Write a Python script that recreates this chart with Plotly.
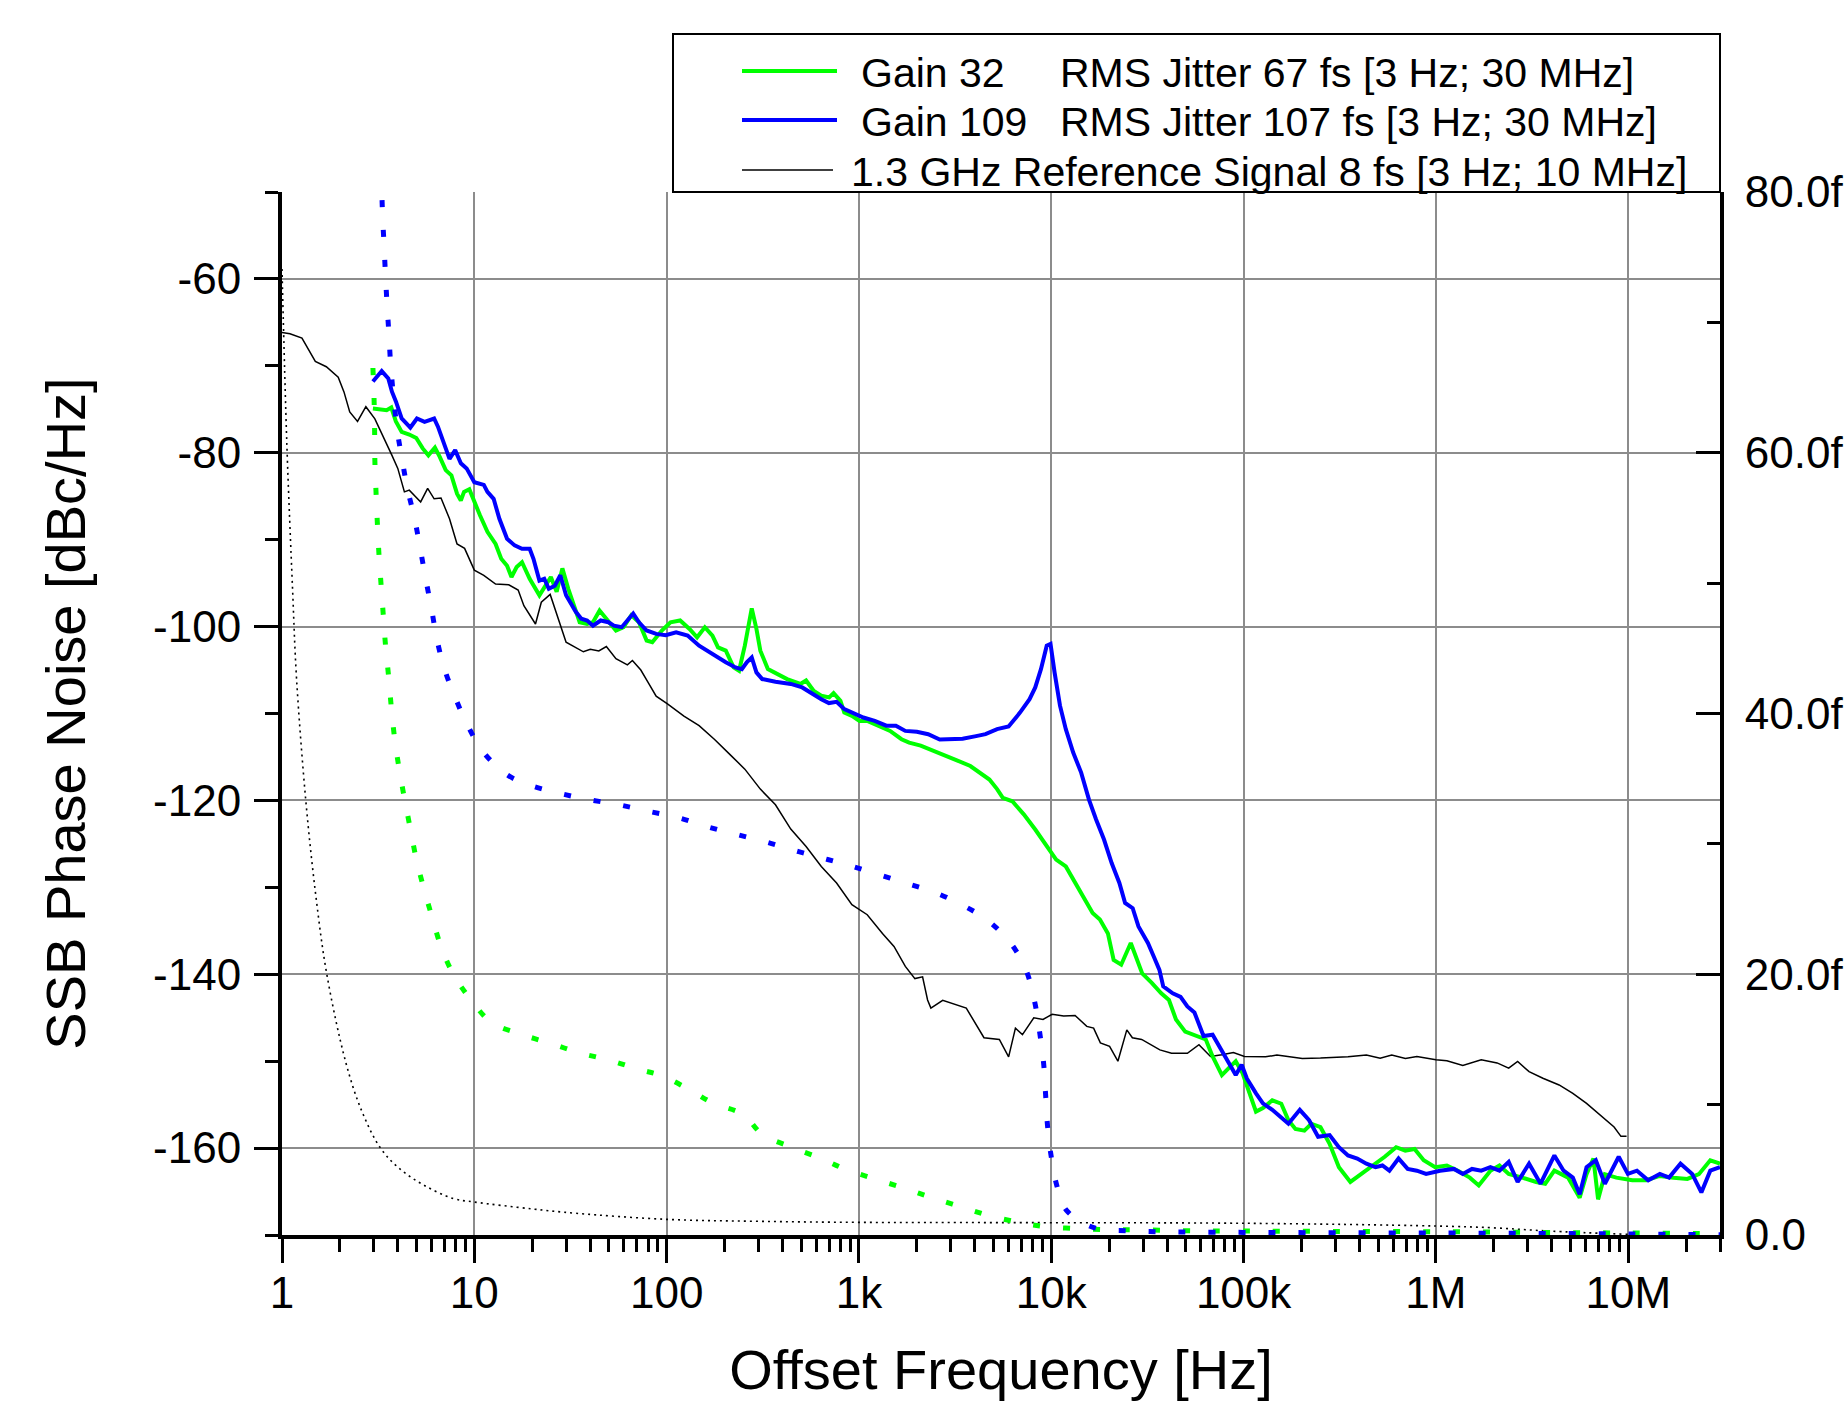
import plotly.graph_objects as go

# ---------------- data ----------------
# Gain 32 phase noise  [Hz] / [dBc/Hz]
g32_f = [2.97, 3.3, 3.5, 3.7, 3.91, 4.19, 4.59, 4.99, 5.39, 5.77, 6.24, 6.62, 7.1, 7.6, 8.13, 8.51, 8.84,
         9.42, 10.0, 10.7, 11.7, 12.9, 13.8, 14.8, 15.6, 16.6, 17.7, 19.4, 21.8, 23.3, 25.0, 26.8, 28.7,
         30.8, 35.3, 38.6, 41.4, 44.8, 48.6, 54.5, 59.7, 65.5, 71.8, 78.7, 84.2, 94.4, 104.7, 117.5, 131.5,
         144, 158, 173, 185, 203, 223, 238, 255, 277, 293, 307, 336, 377, 423, 496, 531, 582, 637, 700,
         738, 801, 839, 919, 1007, 1104, 1265, 1452, 1664, 1824, 2094, 2400, 2754, 3160, 3795, 4355,
         4768, 5227, 5598, 6273, 7194, 8254, 9470, 10600, 11900, 13600, 15000, 16400, 17900, 19700,
         21100, 23100, 25900, 28400, 29700, 33300, 37300, 40900, 44500, 49700, 57000, 63600, 69000,
         77100, 83700, 91000, 98800, 107e3, 116e3, 126e3, 141e3, 157e3, 171e3, 186e3, 207e3, 225e3,
         251e3, 280e3, 313e3, 359e3, 412e3, 472e3, 542e3, 621e3, 693e3, 774e3, 864e3, 991e3, 1.14e6,
         1.3e6, 1.5e6, 1.67e6, 1.92e6, 2.14e6, 2.39e6, 2.81e6, 3.32e6, 3.7e6, 4.13e6, 4.87e6, 5.59e6,
         6.07e6, 6.59e6, 6.97e6, 7.56e6, 8.67e6, 10.5e6, 12.4e6, 14.6e6, 17.2e6, 20.3e6, 23.3e6,
         26.7e6, 30e6]
g32_db = [-74.9, -75.0, -75.1, -74.8, -76.4, -77.6, -77.9, -78.3, -79.5, -80.3, -79.4, -80.5, -82.0, -82.6,
          -84.7, -85.5, -84.5, -84.2, -85.7, -87.2, -89.1, -90.5, -92.2, -93.0, -94.3, -93.15, -92.6, -94.5,
          -96.4, -95.3, -94.3, -96.0, -93.3, -95.65, -99.5, -99.7, -99.5, -98.15, -99.1, -100.45, -100.07,
          -98.7, -99.5, -101.6, -101.8, -100.45, -99.5, -99.3, -100.27, -101.23, -100.08, -101.04, -102.4,
          -102.77, -104.7, -105.08, -102.2, -97.9, -100.27, -102.77, -104.88, -105.46, -106.04, -106.6,
          -106.2, -107.4, -107.96, -108.15, -107.65, -108.54, -109.9, -110.27, -110.85, -110.85, -111.4,
          -112.0, -112.96, -113.35, -113.7, -114.2, -114.7, -115.3, -116.04, -117.0, -117.6, -118.7,
          -119.7, -120.1, -121.6, -123.35, -125.27, -126.8, -127.6, -129.9, -131.4, -132.96, -133.7,
          -135.3, -138.35, -138.9, -136.4, -138.7, -139.9, -141.0, -142.2, -142.96, -145.2, -146.6,
          -147.1, -147.5, -149.46, -151.6, -150.8, -150.0, -151.4, -153.7, -155.8, -155.4, -154.5,
          -154.9, -156.8, -157.8, -158.0, -157.2, -157.6, -159.5, -162.2, -163.9, -162.97, -162.0,
          -161.0, -159.9, -160.3, -160.1, -161.4, -162.2, -162.0, -162.6, -163.4, -164.3, -162.6,
          -162.0, -162.97, -163.4, -163.9, -164.1, -162.6, -163.4, -165.7, -163.0, -161.2, -165.9,
          -163.0, -163.4, -163.7, -163.7, -163.2, -163.4, -163.55, -163.0, -161.4, -161.8]

# Gain 109 phase noise
g109_f = [2.97, 3.11, 3.3, 3.57, 3.73, 3.91, 4.19, 4.65, 5.03, 5.51, 6.18, 6.47, 6.93, 7.43, 7.95, 8.51, 9.12,
          10.0, 11.2, 11.7, 12.6, 13.5, 14.8, 16.2, 17.7, 19.4, 20.3, 21.8, 23.1, 24.4, 26.2, 28.0, 30.0,
          33.7, 36.0, 38.6, 41.4, 45.4, 49.8, 53.2, 58.4, 62.5, 67.0, 71.8, 78.7, 88.2, 98.9, 112, 128.6,
          147.5, 162, 181, 203, 228, 246, 261, 277, 293, 314, 368, 442, 507, 556, 637, 698, 765, 839, 919,
          1054, 1208, 1387, 1556, 1742, 2000, 2291, 2630, 3020, 3459, 4064, 4550, 5227, 5998, 6874,
          7710, 8254, 8836, 9470, 9910, 10400, 11100, 11900, 13000, 14300, 15700, 17100, 18800, 20600,
          22600, 24200, 26500, 28400, 31800, 34100, 36500, 38200, 42800, 47000, 51000, 55500, 61900,
          69000, 75000, 81500, 91000, 97700, 104e3, 116e3, 126e3, 141e3, 155e3, 171e3, 196e3, 219e3,
          244e3, 280e3, 313e3, 349e3, 390e3, 435e3, 485e3, 527e3, 573e3, 639e3, 713e3, 796e3, 889e3,
          1.05e6, 1.24e6, 1.38e6, 1.54e6, 1.72e6, 1.92e6, 2.14e6, 2.39e6, 2.66e6, 3.05e6, 3.5e6,
          4.13e6, 4.61e6, 5.15e6, 5.59e6, 6.07e6, 6.78e6, 7.56e6, 8.92e6, 9.95e6, 11.1e6, 12.7e6,
          14.6e6, 16.3e6, 18.7e6, 21.5e6, 24e6, 26.7e6, 30e6]
g109_db = [-71.8, -71.26, -70.6, -71.45, -72.98, -74.1, -76.06, -77.1, -76.06, -76.44, -76.06, -77.0, -78.75,
           -80.7, -79.7, -81.2, -81.8, -83.4, -83.7, -84.5, -85.3, -87.6, -89.9, -90.66, -91.04, -91.04,
           -92.2, -94.7, -94.5, -95.65, -95.3, -94.1, -96.4, -98.3, -99.1, -99.3, -99.9, -99.3, -99.5,
           -99.9, -100.07, -99.3, -98.5, -99.5, -100.45, -100.84, -101.0, -100.65, -101.04, -102.2,
           -102.77, -103.54, -104.1, -104.7, -104.9, -104.1, -103.54, -105.27, -106.04, -106.35, -106.6,
           -107.0, -107.6, -108.35, -108.8, -108.65, -109.5, -109.9, -110.46, -110.85, -111.4, -111.4,
           -112.0, -112.1, -112.38, -113.0, -113.0, -112.9, -112.6, -112.38, -111.8, -111.5, -109.9,
           -108.35, -107.0, -104.9, -102.2, -102.0, -105.27, -109.1, -111.8, -114.5, -116.8, -119.9,
           -122.2, -124.5, -127.2, -129.5, -131.8, -132.4, -134.5, -136.4, -137.96, -139.5, -141.4,
           -142.2, -142.6, -143.7, -144.4, -147.1, -146.95, -148.3, -149.8, -151.6, -150.4, -152.0,
           -153.7, -154.86, -155.6, -156.4, -157.2, -155.6, -156.8, -158.7, -158.5, -159.9, -160.85,
           -161.2, -161.8, -162.2, -162.0, -162.6, -161.2, -162.4, -162.6, -162.97, -162.6, -162.4,
           -162.97, -162.4, -162.6, -162.2, -162.6, -161.6, -163.9, -161.8, -164.1, -160.85, -162.6,
           -163.4, -165.3, -162.2, -161.4, -164.1, -161.0, -162.97, -162.6, -163.7, -162.97, -163.4,
           -161.8, -162.97, -165.1, -162.6, -162.2]

# 1.3 GHz reference signal phase noise
ref_f = [1.0, 1.1, 1.27, 1.36, 1.49, 1.7, 1.96, 2.1, 2.25, 2.47, 2.73, 3.04, 3.41, 3.73, 4.0, 4.33, 4.59,
         5.26, 5.72, 6.18, 6.71, 7.43, 8.13, 8.9, 10, 11.2, 12.9, 15.1, 16.9, 18.1, 20.8, 22.3, 24.8,
         27.4, 30.0, 36.9, 40.1, 44.4, 48.6, 54.5, 62.5, 66.4, 73.4, 80.5, 88.2, 101, 123, 147.5, 177,
         213, 255, 307, 368, 442, 531, 637, 765, 919, 1104, 1325, 1521, 1742, 1954, 2142, 2274, 2366,
         2725, 3614, 4467, 5370, 6000, 6510, 7080, 8110, 9060, 10100, 11600, 13300, 15300, 16600,
         18000, 20100, 22200, 24700, 26400, 29500, 36700, 42200, 51000, 58600, 67300, 77100, 88500,
         101e3, 130e3, 149e3, 202e3, 251e3, 349e3, 435e3, 513e3, 589e3, 694e3, 796e3, 1.0e6, 1.14e6,
         1.38e6, 1.72e6, 2.08e6, 2.39e6, 2.66e6, 3.05e6, 3.6e6, 4.37e6, 5.15e6, 6.07e6, 7.16e6,
         8.44e6, 9.16e6, 9.8e6]
ref_db = [-66.15, -66.3, -66.8, -68.0, -69.5, -70.1, -71.3, -73.0, -75.3, -76.4, -74.7, -76.1, -78.4, -80.3,
          -81.8, -84.5, -84.3, -85.66, -84.1, -85.3, -85.2, -87.6, -90.5, -91.0, -93.5, -94.1, -95.1, -95.2,
          -95.8, -97.6, -99.7, -97.2, -96.3, -99.1, -101.8, -102.9, -102.6, -102.8, -102.3, -103.7, -104.4,
          -103.9, -105.0, -106.5, -108.0, -108.9, -110.3, -111.4, -112.96, -114.7, -116.4, -118.7, -120.5,
          -123.3, -125.3, -127.6, -129.5, -132.0, -133.15, -135.3, -136.8, -139.1, -140.5, -140.3,
          -142.96, -143.9, -143.0, -143.9, -147.3, -147.5, -149.5, -146.2, -146.95, -145.0, -145.2,
          -144.6, -144.8, -144.75, -146.0, -146.2, -147.9, -148.3, -150.0, -146.4, -147.3, -147.5,
          -148.7, -149.1, -149.1, -148.1, -149.46, -149.27, -149.0, -149.46, -149.5, -149.3, -149.7,
          -149.65, -149.5, -149.3, -149.65, -149.3, -149.7, -149.46, -149.85, -149.96, -150.5, -149.85,
          -150.2, -150.8, -150.04, -151.2, -151.97, -152.74, -153.7, -154.86, -156.2, -157.57, -158.65,
          -158.65]

# integrated RMS jitter [fs] (right axis)
g32_jit_f = [2.97, 3.01, 3.03, 3.04, 3.08, 3.13, 3.19, 3.27, 3.36, 3.45, 3.58, 3.70, 3.85, 4.06, 4.33, 4.65,
             4.99, 5.46, 6.04, 6.72, 7.78, 9.42, 12.3, 17.5, 24.8, 35.7, 50.6, 71.7, 94.9, 133, 175, 250,
             315, 442, 640, 838, 1197, 1730, 2371, 3372, 4830, 6920, 9330, 13600, 19700, 28200, 50000,
             1e5, 1e6, 1e7, 3e7]
g32_jit_fs = [66.5, 64.2, 61.9, 59.4, 57.1, 54.7, 52.3, 50.0, 47.6, 45.3, 42.9, 40.5, 38.1, 35.8, 33.5, 31.15,
              28.85, 26.6, 24.35, 22.1, 20.0, 18.2, 16.3, 15.4, 14.7, 13.95, 13.4, 12.7, 12.2, 11.1, 10.1,
              9.25, 7.7, 6.76, 5.85, 5.08, 4.32, 3.58, 2.89, 2.17, 1.46, 0.94, 0.64, 0.49, 0.41, 0.4, 0.33,
              0.3, 0.25, 0.15, 0.1]

g109_jit_f = [3.0, 3.33, 3.39, 3.45, 3.52, 3.6, 3.68, 3.96, 4.21, 4.49, 4.9, 5.24, 5.61, 6.01, 6.41, 7.0,
              8.02, 9.25, 11.2, 14.8, 19.5, 27.4, 39.2, 56.5, 80.4, 116, 164, 235, 337, 486, 687, 914,
              1300, 1841, 2455, 3459, 4700, 6210, 7400, 8200, 8710, 9120, 9340, 9560, 9980, 10700,
              12000, 16800, 24600, 35400, 1e5, 1e6, 1e7, 3e7]
g109_jit_fs = [107, 78.4, 76.1, 73.7, 71.3, 69.0, 66.6, 61.9, 59.5, 57.25, 54.9, 52.6, 50.2, 47.9, 45.6, 43.4,
               41.1, 39.05, 37.0, 35.3, 34.5, 33.9, 33.4, 33.0, 32.5, 32.0, 31.3, 30.7, 30.1, 29.4, 28.8,
               28.3, 27.6, 26.9, 26.3, 25.3, 24.1, 22.3, 20.3, 17.87, 15.5, 13.2, 10.8, 8.4, 6.06, 3.76,
               1.89, 0.54, 0.33, 0.25, 0.2, 0.15, 0.08, 0.02]

ref_jit_f = [1.0, 1.06, 1.135, 1.19, 1.33, 1.5, 1.71, 2.15, 2.6, 3.25, 4.1, 5.5, 7.77, 10, 20, 33.6, 100,
             300, 1000, 5400, 1e5, 1e6, 2e6, 3.9e6, 1e7]
ref_jit_fs = [74.1, 60.6, 49.5, 42.7, 33.3, 26.0, 20.0, 13.2, 9.5, 6.67, 5.07, 3.8, 2.8, 2.53, 2.0, 1.67, 1.2,
              1.05, 0.97, 0.95, 0.9, 0.69, 0.55, 0.3, 0.05]

x_tickvals = [1, 10, 100, 1e3, 1e4, 1e5, 1e6, 1e7]
x_ticktext = ["1", "10", "100", "1k", "10k", "100k", "1M", "10M"]
y_tickvals = [-60, -80, -100, -120, -140, -160]
y_ticktext = ["-60", "-80", "-100", "-120", "-140", "-160"]
y2_tickvals = [0, 20, 40, 60, 80]
y2_ticktext = ["0.0", "20.0f", "40.0f", "60.0f", "80.0f"]

legend_rows = [
    ("Gain 32", "RMS Jitter 67 fs [3 Hz; 30 MHz]", "#00FF00", 4),
    ("Gain 109", "RMS Jitter 107 fs [3 Hz; 30 MHz]", "#0000FF", 4),
    ("1.3 GHz Reference Signal 8 fs [3 Hz; 10 MHz]", "", "black", 1.5),
]

# ---------------- figure ----------------
W, H = 1848, 1401
L, R, T, B = 282, 128, 192, 166
FONT = "Liberation Sans, Arial, sans-serif"
GREEN, BLUE = "#00FF00", "#0000FF"

fig = go.Figure()
fig.add_trace(go.Scatter(x=ref_jit_f, y=ref_jit_fs, yaxis="y2", mode="lines", line_shape="spline",
                         line=dict(color="black", width=1.6, dash="2px,4px"), name="Reference jitter"))
fig.add_trace(go.Scatter(x=g32_jit_f, y=g32_jit_fs, yaxis="y2", mode="lines", line_shape="spline",
                         line=dict(color=GREEN, width=5, dash="7px,23px"), name="Gain 32 jitter"))
fig.add_trace(go.Scatter(x=g109_jit_f, y=g109_jit_fs, yaxis="y2", mode="lines", line_shape="spline",
                         line=dict(color=BLUE, width=5, dash="7px,23px"), name="Gain 109 jitter"))
fig.add_trace(go.Scatter(x=ref_f, y=ref_db, mode="lines", line=dict(color="black", width=1.5),
                         name="1.3 GHz Reference Signal"))
fig.add_trace(go.Scatter(x=g32_f, y=g32_db, mode="lines", line=dict(color=GREEN, width=4), name="Gain 32"))
fig.add_trace(go.Scatter(x=g109_f, y=g109_db, mode="lines", line=dict(color=BLUE, width=4), name="Gain 109"))

minor_x = [m * 10 ** k for k in range(0, 8) for m in range(2, 10) if m * 10 ** k <= 3e7]

fig.update_layout(
    width=W, height=H, margin=dict(l=L, r=R, t=T, b=B, autoexpand=False),
    paper_bgcolor="white", plot_bgcolor="white", showlegend=False,
    font=dict(family=FONT, color="black"),
    xaxis=dict(type="log", range=[0, 7.4771], tickmode="array", tickvals=x_tickvals, ticktext=x_ticktext,
               ticks="outside", ticklen=24, tickwidth=3, tickcolor="black", automargin=False,
               showline=True, linewidth=4, linecolor="black", showgrid=True, gridcolor="#8c8c8c",
               gridwidth=1.5, zeroline=False, tickfont=dict(size=44), ticklabelstandoff=-8,
               minor=dict(tickmode="array", tickvals=minor_x, ticks="outside", ticklen=13, tickwidth=3,
                          tickcolor="black", showgrid=False),
               title=dict(text="Offset Frequency [Hz]", font=dict(size=56), standoff=37)),
    yaxis=dict(range=[-170, -50], tickmode="array", tickvals=y_tickvals, ticktext=y_ticktext,
               ticks="outside", ticklen=24, tickwidth=3, tickcolor="black", automargin=False,
               showline=True, linewidth=4, linecolor="black", showgrid=True, gridcolor="#8c8c8c",
               gridwidth=1.5, zeroline=False, tickfont=dict(size=44), ticklabelstandoff=4,
               minor=dict(tickmode="array", tickvals=[-50, -70, -90, -110, -130, -150, -170], ticks="outside",
                          ticklen=13, tickwidth=3, tickcolor="black", showgrid=False),
               title=dict(text="SSB Phase Noise [dBc/Hz]", font=dict(size=56), standoff=51)),
    yaxis2=dict(overlaying="y", side="right", range=[0, 80], tickmode="array", tickvals=y2_tickvals,
                ticktext=y2_ticktext, ticks="inside", ticklen=24, tickwidth=3, tickcolor="black",
                automargin=False,
                showline=True, linewidth=4, linecolor="black", showgrid=False, zeroline=False,
                tickfont=dict(size=44), ticklabelstandoff=12,
                minor=dict(tickmode="array", tickvals=[10, 30, 50, 70], ticks="inside", ticklen=13,
                           tickwidth=3, tickcolor="black", showgrid=False)),
)

# ---------------- hand-built legend (box above the plot) ----------------
PW, PH = W - L - R, H - T - B


def px(xp):
    return (xp - L) / PW


def py(yp):
    return (H - B - yp) / PH


shapes = [dict(type="rect", xref="paper", yref="paper", x0=px(673), x1=px(1720), y0=py(192), y1=py(34),
               line=dict(color="black", width=2), fillcolor="white", layer="above")]
annos = []
row_y = [71, 120, 170]
for (t1, t2, col, lw), yy in zip(legend_rows, row_y):
    x1 = 837 if t2 else 833
    shapes.append(dict(type="line", xref="paper", yref="paper", x0=px(742), x1=px(x1), y0=py(yy), y1=py(yy),
                       line=dict(color=col, width=lw)))
    annos.append(dict(xref="paper", yref="paper", x=px(859 if t2 else 849), y=py(yy + 2), text=t1,
                      showarrow=False, xanchor="left", yanchor="middle", font=dict(size=41)))
    if t2:
        annos.append(dict(xref="paper", yref="paper", x=px(1058), y=py(yy + 2), text=t2,
                          showarrow=False, xanchor="left", yanchor="middle", font=dict(size=41)))
fig.update_layout(shapes=shapes, annotations=annos)

# the page's default 8px body margin would shift the whole figure; remove it
fig.write_html("out.html",
               config={"displayModeBar": False},
               post_script="document.body.style.margin='0px';"
                           "document.documentElement.style.overflow='hidden';")
